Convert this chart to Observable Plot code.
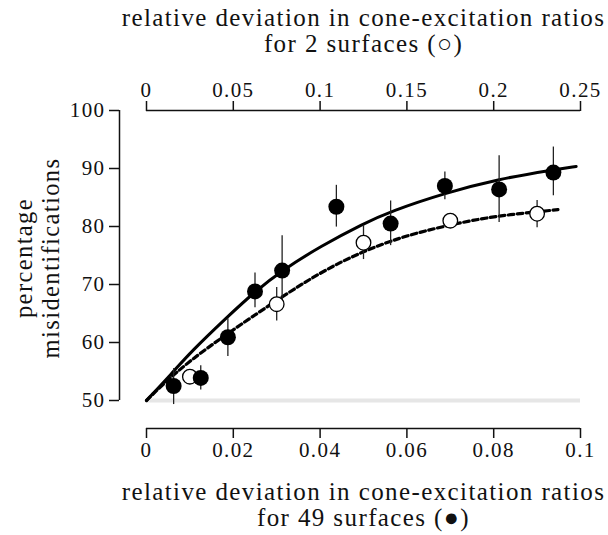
<!DOCTYPE html>
<html>
<head>
<meta charset="utf-8">
<script src="https://cdn.jsdelivr.net/npm/d3@7"></script>
<script src="https://cdn.jsdelivr.net/npm/@observablehq/plot@0.6"></script>
<style>
  html, body { margin: 0; padding: 0; background: #fff; }
</style>
</head>
<body>
<div id="chart"></div>
<script>
// ---- axis ticks ----
const bottomTicks = [0, 0.02, 0.04, 0.06, 0.08, 0.1];
const bottomTickLabels = ["0", "0.02", "0.04", "0.06", "0.08", "0.1"];
const topTicks = [0, 0.05, 0.1, 0.15, 0.2, 0.25];
const topTickLabels = ["0", "0.05", "0.1", "0.15", "0.2", "0.25"];
const yTicks = [50, 60, 70, 80, 90, 100];
const topPerBottom = 2.5; // top axis spans 0–0.25 where bottom spans 0–0.1

// ---- 49 surfaces (filled circles, bottom axis) ----
const filledX  = [0.00625, 0.0125, 0.01875, 0.025, 0.03125, 0.04375, 0.05625, 0.06875, 0.08125, 0.09375];
const filledY  = [52.5, 53.9, 60.9, 68.8, 72.4, 83.4, 80.5, 87.0, 86.4, 89.3];
const filledLo = [49.3, 51.8, 57.6, 66.0, 67.0, 79.9, 76.7, 84.6, 80.7, 85.3];
const filledHi = [55.5, 56.0, 64.1, 72.0, 78.4, 87.1, 84.4, 89.4, 92.2, 93.7];

// ---- 2 surfaces (open circles, top axis) ----
const openX  = [0.025, 0.075, 0.125, 0.175, 0.225];
const openY  = [54.1, 66.6, 77.2, 81.0, 82.2];
const openLo = [53.3, 63.7, 74.3, 80.2, 79.8];
const openHi = [54.9, 69.5, 80.2, 81.8, 84.5];

// ---- fitted curves ----
const solidX = [0, 0.006, 0.0101, 0.0186, 0.025, 0.0312, 0.0401, 0.05, 0.0562, 0.0689, 0.0812, 0.0939, 0.099];
const solidY = [50, 54.8, 58.3, 64.4, 68.8, 72.4, 76.6, 80.5, 82.6, 85.8, 88.2, 89.8, 90.35];
const dashX  = [0, 0.008, 0.025, 0.047, 0.0735, 0.1, 0.125, 0.15, 0.175, 0.2, 0.237];   // top-axis units
const dashY  = [50, 52.4, 56.9, 61.6, 67.0, 72.1, 75.8, 78.5, 80.3, 81.8, 82.9];

// ---- texts ----
const topTitle = "relative deviation in cone-excitation ratios\nfor 2 surfaces (○)";
const bottomTitle = "relative deviation in cone-excitation ratios\nfor 49 surfaces (●)";
const yTitle = "percentage\nmisidentifications";

// ---- tables ----
const filled = filledX.map((x, i) => ({x, y: filledY[i], lo: filledLo[i], hi: filledHi[i]}));
const open = openX.map((x, i) => ({x: x / topPerBottom, y: openY[i], lo: openLo[i], hi: openHi[i]}));
const solid = solidX.map((x, i) => ({x, y: solidY[i]}));
const dashed = dashX.map((x, i) => ({x: x / topPerBottom, y: dashY[i]}));
const topTickPos = topTicks.map(t => t / topPerBottom);

const ink = "#111";
const tickFont = 21;
const chart = Plot.plot({
  width: 608,
  height: 535,
  marginLeft: 119,
  marginRight: 28,
  marginTop: 110,
  marginBottom: 107,
  style: {
    fontFamily: "'Liberation Serif', 'Times New Roman', serif",
    fontSize: "21px",
    letterSpacing: "1.4px",
    background: "#fff",
    color: ink
  },
  x: {domain: [0, 0.1], insetLeft: 27, insetRight: 0},
  y: {domain: [50, 100], insetBottom: 28},
  marks: [
    // chance level
    Plot.ruleY([50], {x1: 0, x2: 0.1, stroke: "#e6e6e6", strokeWidth: 4}),
    // axis lines
    Plot.ruleY([50], {x1: 0, x2: 0.1, dy: 28, stroke: ink, strokeWidth: 1.5}),
    Plot.ruleY([100], {x1: 0, x2: 0.1, stroke: ink, strokeWidth: 1.5}),
    Plot.ruleX([0], {y1: 50, y2: 100, dx: -27, stroke: ink, strokeWidth: 1.5}),
    // axes
    Plot.axisX(bottomTicks, {anchor: "bottom", tickSize: 10, tickPadding: 4, strokeWidth: 1.5, fontSize: tickFont,
      tickFormat: d => bottomTickLabels[bottomTicks.indexOf(d)], label: null}),
    Plot.axisX(topTickPos, {anchor: "top", tickSize: 10, tickPadding: 4, strokeWidth: 1.5, fontSize: tickFont,
      tickFormat: d => topTickLabels[topTickPos.indexOf(d)], label: null}),
    Plot.axisY(yTicks, {anchor: "left", tickSize: 10, tickPadding: 4, strokeWidth: 1.5, fontSize: tickFont,
      tickFormat: d => String(d), label: null}),
    // curves
    Plot.line(solid, {x: "x", y: "y", curve: "basis", stroke: "#000", strokeWidth: 3}),
    Plot.line(dashed, {x: "x", y: "y", curve: "basis", stroke: "#000", strokeWidth: 3.2, strokeDasharray: "5.5,3.5"}),
    // error bars
    Plot.ruleX(filled, {x: "x", y1: "lo", y2: "hi", stroke: "#222", strokeWidth: 1.3}),
    Plot.ruleX(open, {x: "x", y1: "lo", y2: "hi", stroke: "#222", strokeWidth: 1.3}),
    // points
    Plot.dot(open, {x: "x", y: "y", r: 7.3, fill: "#fff", stroke: "#000", strokeWidth: 1.3}),
    Plot.dot(filled, {x: "x", y: "y", r: 8, fill: "#000", stroke: "none"}),
    // titles
    Plot.text([topTitle], {text: d => d, frameAnchor: "top", dx: 13.5, dy: -59, lineAnchor: "bottom",
      fontSize: 25, lineHeight: 1.04, fill: ink}),
    Plot.text([bottomTitle], {text: d => d, frameAnchor: "bottom", dx: 13.5, dy: 97.5, lineAnchor: "bottom",
      fontSize: 25, lineHeight: 1.06, fill: ink}),
    Plot.text([yTitle], {text: d => d, frameAnchor: "left", rotate: -90, dx: -83, dy: -11.5, lineAnchor: "middle",
      textAnchor: "middle", fontSize: 24.5, lineHeight: 1.1, fill: ink})
  ]
});
document.getElementById("chart").appendChild(chart);
</script>
</body>
</html>
